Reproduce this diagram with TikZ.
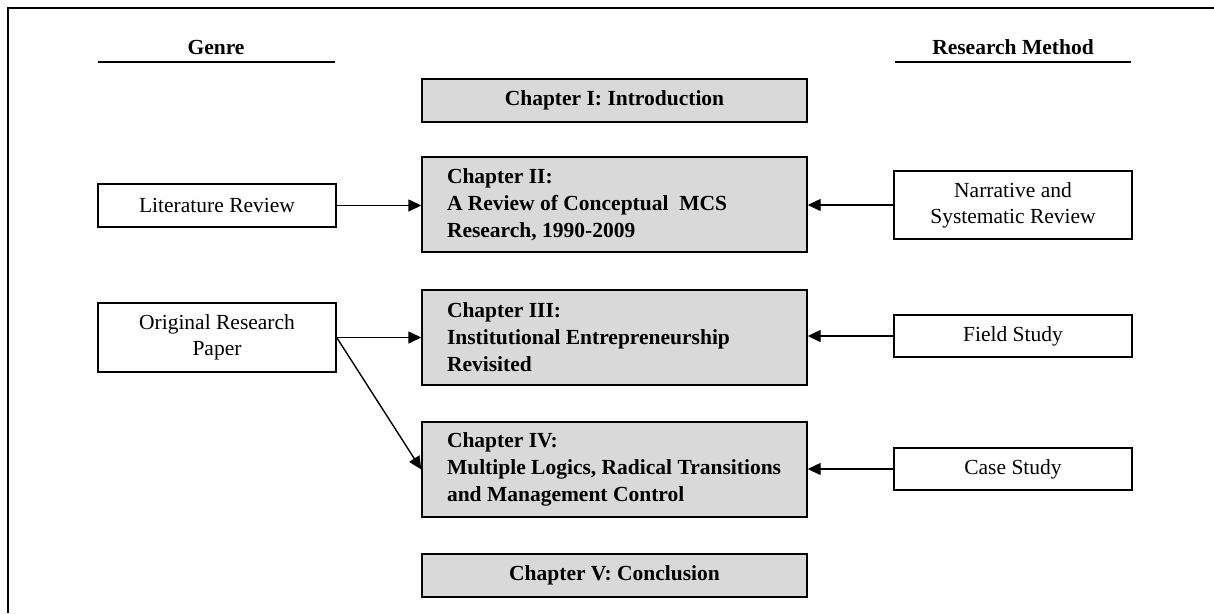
\documentclass[tikz,border=0pt]{standalone}
\usepackage{fontspec}
\setmainfont{Liberation Serif}
\usetikzlibrary{arrows.meta}
\definecolor{boxgray}{RGB}{217,217,217}
\begin{document}
\begin{tikzpicture}[x=1pt,y=-1pt,
  every path/.style={line width=1.4pt},
  chap/.style={draw=black, fill=boxgray, minimum width=385pt, inner sep=0pt,
     font=\fontsize{21.5}{27}\selectfont\bfseries},
  chapshort/.style={chap, minimum height=43pt, align=center},
  chaplong/.style={chap, minimum height=95pt},
  chaptext/.style={anchor=west, inner sep=0pt, align=left,
     font=\fontsize{21.5}{27}\selectfont\bfseries},
  side/.style={draw=black, fill=white, minimum width=238pt, inner sep=0pt, align=center,
     font=\fontsize{21.5}{26}\selectfont},
  head/.style={font=\fontsize{21.5}{26}\selectfont\bfseries},
  arr/.style={-{Triangle[length=13pt,width=12pt]}}
]
\useasboundingbox (0,0) rectangle (1214,613);
% frame (left and top sides only)
\draw[line width=2pt] (7.5,613) -- (7.5,7.5) -- (1214,7.5);

% headings
\node[head] (genre) at (216,47) {Genre};
\node[head] (method) at (1013,47) {Research Method};
\coordinate (gl) at (98,62);  \coordinate (gr) at (335,62);
\coordinate (ml) at (895,62); \coordinate (mr) at (1131,62);
\draw (gl) -- (gr);
\draw (ml) -- (mr);

% chapter boxes
\node[chapshort] (ch1) at (614.5,100.5) {Chapter I: Introduction};
\node[chaplong] (ch2) at (614.5,204.5) {};
\node[chaptext] (ch2t) at ([xshift=25pt]ch2.west) {Chapter II:\\A Review of Conceptual\ \ MCS\\Research, 1990-2009};
\node[chaplong] (ch3) at (614.5,337.5) {};
\node[chaptext] (ch3t) at ([xshift=25pt]ch3.west) {Chapter III:\\Institutional Entrepreneurship\\Revisited};
\node[chaplong] (ch4) at (614.5,469.5) {};
\node[chaptext] (ch4t) at ([xshift=25pt]ch4.west) {Chapter IV:\\Multiple Logics, Radical Transitions\\and Management Control};
\node[chapshort] (ch5) at (614.5,575.5) {Chapter V: Conclusion};

% genre boxes
\node[side, minimum height=43pt] (lit) at (217,205.5) {Literature Review};
\node[side, minimum height=69pt] (orig) at (217,337.5) {Original Research\\Paper};

% method boxes
\node[side, minimum height=68pt] (narr) at (1013,205) {Narrative and\\Systematic Review};
\node[side, minimum height=42pt] (field) at (1013,336) {Field Study};
\node[side, minimum height=42pt] (case) at (1013,469) {Case Study};

% connectors
\draw[arr] (lit.east) -- (ch2.west |- lit.east);
\draw[arr] (orig.east) -- (ch3.west);
\draw[arr] (orig.east) -- (ch4.west);
\draw[arr] (narr.west) -- (ch2.east |- narr.west);
\draw[arr] (field.west) -- (ch3.east |- field.west);
\draw[arr] (case.west) -- (ch4.east |- case.west);
\end{tikzpicture}
\end{document}
